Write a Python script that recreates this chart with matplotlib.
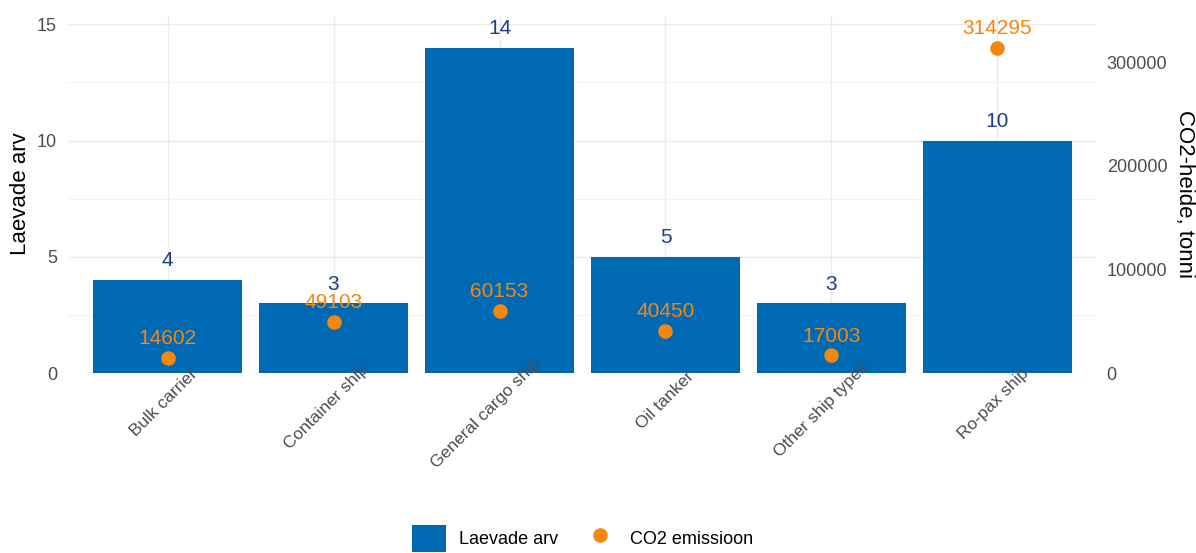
import matplotlib
matplotlib.use("Agg")
import matplotlib.pyplot as plt
from matplotlib.patches import Patch
from matplotlib.lines import Line2D
from matplotlib.transforms import ScaledTranslation, blended_transform_factory
from matplotlib.textpath import TextPath
from matplotlib.font_manager import FontProperties
import numpy as np

plt.rcParams['font.family'] = ['Liberation Sans', 'DejaVu Sans']

categories = ["Bulk carrier", "Container ship", "General cargo ship",
              "Oil tanker", "Other ship types", "Ro-pax ship"]
ship_counts = [4, 3, 14, 5, 3, 10]
co2_emissions = [14602, 49103, 60153, 40450, 17003, 314295]

bar_color = "#0069B4"
pt_color = "#F5870F"
count_label_color = "#1F3C88"
tick_color = "#4D4D4D"
grid_color = "#EBEBEB"

DPI = 100
scale = max(co2_emissions) / max(ship_counts)

fig = plt.figure(figsize=(11.96, 5.53), dpi=DPI)
ax = fig.add_axes([68/1196, 1-373/553, (1097-68)/1196, (373-15)/553])

x = np.arange(len(categories))
ax.bar(x, ship_counts, width=0.9, color=bar_color, zorder=2)
co2_scaled = np.array(co2_emissions) / scale
ax.scatter(x, co2_scaled, s=110, color=pt_color, zorder=3, linewidths=0)

for xi, c in zip(x, ship_counts):
    ax.annotate(str(c), (xi, c), xytext=(0, 7), textcoords="offset points",
                ha="center", va="bottom", color=count_label_color, fontsize=15, zorder=4)
for xi, v, vs in zip(x, co2_emissions, co2_scaled):
    ax.annotate(str(v), (xi, vs), xytext=(0, 7), textcoords="offset points",
                ha="center", va="bottom", color=pt_color, fontsize=15, zorder=4)

ax.set_xlim(-0.6, len(categories) - 0.4)
ax.set_ylim(0, 15.4)
ax.set_yticks([0, 5, 10, 15])
ax.set_yticks([2.5, 7.5, 12.5], minor=True)
ax.set_xticks(x)
ax.set_xticklabels([])

# rotated category labels (anchored ~75% along their length, like ggplot hjust)
xlab_size = 12.5
fp = FontProperties(family='Liberation Sans', size=xlab_size)
base = blended_transform_factory(ax.transData, ax.transAxes)
for xi, cat in zip(x, categories):
    w_px = TextPath((0, 0), cat, prop=fp).get_extents().width * DPI / 72.0
    along = 0.25 * w_px * 0.7071
    dx = 7.4 + along
    dy = -8.6 + along
    off = ScaledTranslation(dx / DPI, dy / DPI, fig.dpi_scale_trans)
    ax.text(xi, 0, cat, transform=base + off, rotation=45, rotation_mode="anchor",
            ha="right", va="top", color=tick_color, fontsize=xlab_size)

ax.tick_params(axis="both", which="both", length=0, colors=tick_color, labelsize=13)
ax.tick_params(axis="y", which="minor", labelleft=False)
ax.tick_params(axis="y", pad=8)
ax.grid(True, which="major", color=grid_color, linewidth=1.0, zorder=0)
ax.grid(True, which="minor", axis="y", color="#F2F2F2", linewidth=0.8, zorder=0)
ax.set_axisbelow(True)
for s in ax.spines.values():
    s.set_visible(False)
ax.set_ylabel("Laevade arv", fontsize=16, color="black", va="center")
ax.yaxis.set_label_coords(-0.046, 0.5)

ax2 = ax.twinx()
ax2.set_ylim(0, 15.4 * scale)
ax2.set_yticks([0, 100000, 200000, 300000])
ax2.set_yticklabels(["0", "100000", "200000", "300000"])
ax2.tick_params(axis="y", which="both", length=0, colors=tick_color, labelsize=13, pad=7)
for s in ax2.spines.values():
    s.set_visible(False)
ax2.set_ylabel("CO2-heide, tonni", fontsize=16, color="black", rotation=-90,
               va="center", ha="center")
ax2.yaxis.set_label_coords(1.0855, 0.5)

handles = [Patch(facecolor=bar_color, edgecolor="none", label="Laevade arv"),
           Line2D([0], [0], marker="o", color="none", markerfacecolor=pt_color,
                  markeredgecolor="none", markersize=10.5, label="CO2 emissioon")]
fig.legend(handles=handles, loc="center", bbox_to_anchor=(0.487, 0.026), ncol=2,
           frameon=False, fontsize=13, handlelength=1.88, handleheight=1.88,
           columnspacing=1.38, handletextpad=0.72, borderpad=0, borderaxespad=0)

fig.savefig("out.png", dpi=DPI)
